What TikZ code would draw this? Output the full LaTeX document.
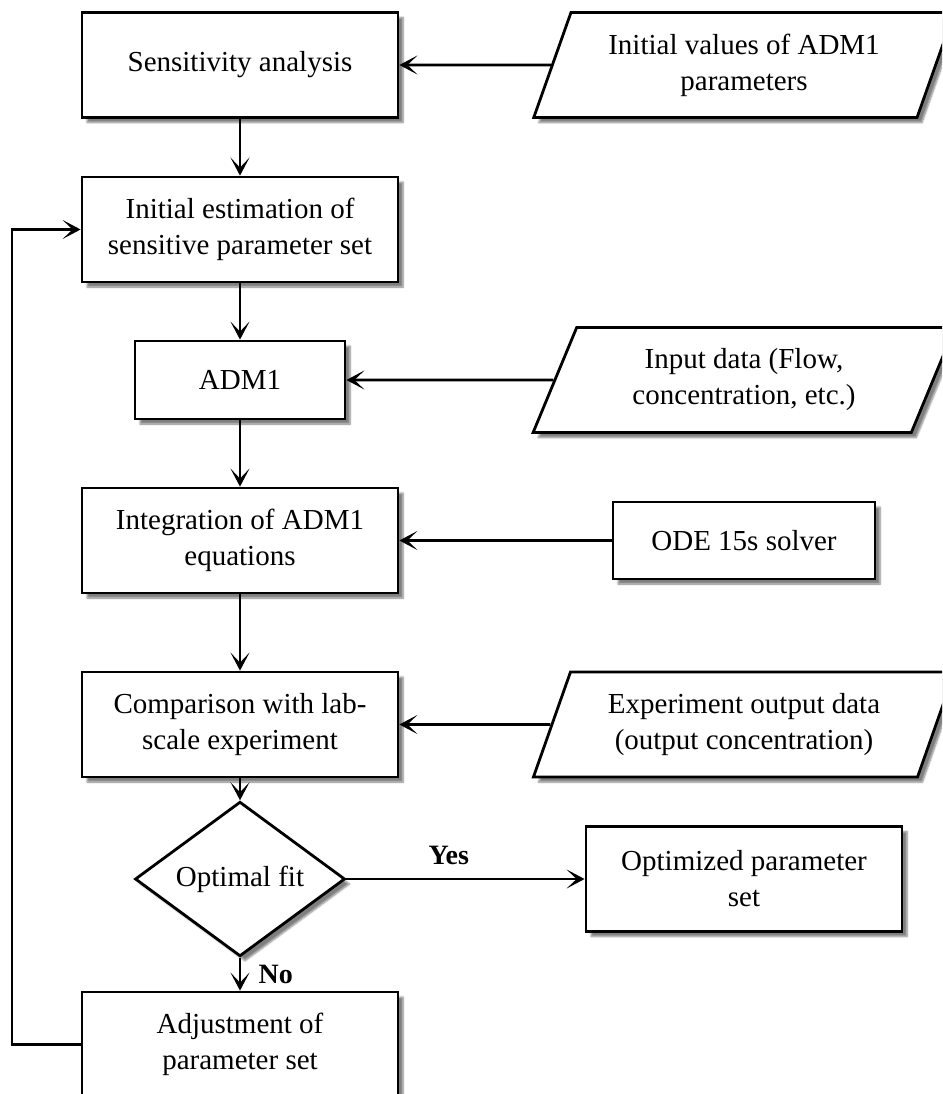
\documentclass[tikz,border=0pt]{standalone}
\usepackage{fontspec}
\setmainfont{Liberation Serif}
\usepackage{tikz}
\usetikzlibrary{shapes,arrows,positioning,calc,arrows.meta,shadows.blur}

\tikzset{
    shade/.style={blur shadow={shadow xshift=5pt, shadow yshift=-5pt, shadow opacity=50, shadow blur steps=6}},
    block/.style={draw, line width=2.8pt, fill=white, shade, align=center, inner sep=0pt,
        minimum width=316pt, minimum height=105pt, font=\fontsize{29}{36}\selectfont},
    iobox/.style={block, trapezium, trapezium left angle=65, trapezium right angle=115,
        trapezium stretches=true, minimum width=422pt},
    decide/.style={block, diamond, minimum width=210pt, minimum height=104pt},
    link/.style={line width=2.8pt, -{Stealth[length=18pt,width=19pt,inset=10pt]}},
    answer/.style={font=\bfseries\fontsize{28}{32}\selectfont}
}

\begin{document}
\begin{tikzpicture}[x=1pt, y=-1pt]
    \useasboundingbox (0,0) rectangle (942,1094);
    \clip (0,0) rectangle (942,1094);

    % Main column
    \node[block] (sens) at (240,65) {Sensitivity analysis};
    \node[block] (init) at (240,229.5) {Initial estimation of\\sensitive parameter set};
    \node[block, minimum width=210pt, minimum height=78pt] (adm) at (240,380) {ADM1};
    \node[block] (integ) at (240,540.5) {Integration of ADM1\\equations};
    \node[block] (comp) at (240,724.5) {Comparison with lab-\\scale experiment};
    \node[decide] (fit) at (240,879) {Optimal fit};
    \node[block] (adjust) at (240,1044.5) {Adjustment of\\parameter set};

    % Inputs on the right
    \node[iobox] (initvals) at (744,65) {Initial values of ADM1\\parameters};
    \node[iobox] (input) at (744,380) {Input data (Flow,\\concentration, etc.)};
    \node[block, minimum width=262pt, minimum height=77pt] (ode) at (744,540.5) {ODE 15s solver};
    \node[iobox] (expdata) at (744,724.5) {Experiment output data\\(output concentration)};
    \node[block] (optim) at (744,879) {Optimized parameter\\set};

    % Flow
    \draw[link] (sens) -- (init);
    \draw[link] (init) -- (adm);
    \draw[link] (adm) -- (integ);
    \draw[link] (integ) -- (comp);
    \draw[link] (comp) -- (fit);
    \draw[link] (initvals) -- (sens);
    \draw[link] (input) -- (adm);
    \draw[link] (ode) -- (integ);
    \draw[link] (expdata) -- (comp);
    \draw[link] (fit) -- node[answer, above=10pt, pos=0.43] {Yes} (optim);
    \draw[link] (fit) -- node[answer, right=14pt] {No} (adjust);

    % Feedback loop
    \coordinate (back) at (12,229.5);
    \draw[link] (adjust.west) -| (back) -- (init.west);
\end{tikzpicture}
\end{document}
